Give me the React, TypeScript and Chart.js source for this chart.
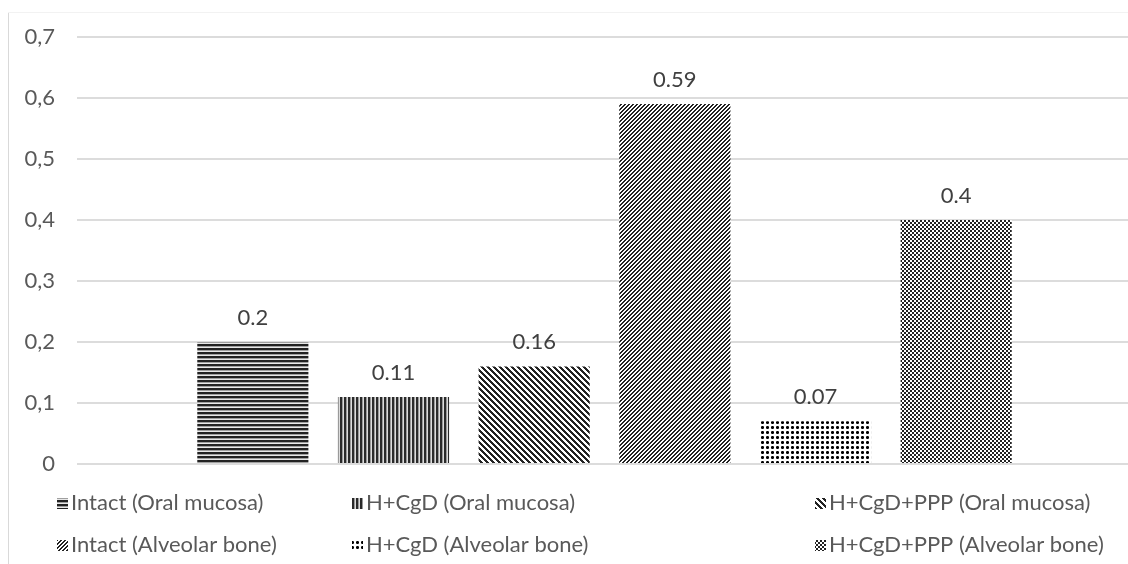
import React, { useEffect, useRef } from "react";
import { Chart, registerables } from "chart.js";

Chart.register(...registerables);

const categories = [""];
const seriesLabels = [
  "Intact (Oral mucosa)",
  "H+CgD (Oral mucosa)",
  "H+CgD+PPP (Oral mucosa)",
  "Intact (Alveolar bone)",
  "H+CgD (Alveolar bone)",
  "H+CgD+PPP (Alveolar bone)",
];
const seriesValues = [0.2, 0.11, 0.16, 0.59, 0.07, 0.4];
const yMin = 0;
const yMax = 0.7;
const yStep = 0.1;

const FONT = "Lato, 'Open Sans', sans-serif";
const TEXT = "#595959";
const FS = 22;

function makeTile(w: number, h: number, fn: (x: number, y: number) => string) {
  const c = document.createElement("canvas");
  c.width = w;
  c.height = h;
  const ctx = c.getContext("2d")!;
  for (let y = 0; y < h; y++) {
    for (let x = 0; x < w; x++) {
      ctx.fillStyle = fn(x, y);
      ctx.fillRect(x, y, 1, 1);
    }
  }
  return ctx.createPattern(c, "repeat")!;
}

function makePatterns(): CanvasPattern[] {
  const D = "#222222";
  const W = "#ffffff";
  const horiz = makeTile(1, 4, (_x, y) => (y < 2 ? D : y === 2 ? "#a0a0a0" : "#e8e8e8"));
  const vert = makeTile(4, 1, (x) => (x < 2 ? "#2a2a2a" : x === 2 ? "#9a9a9a" : "#dcdcdc"));
  const wideDown = makeTile(6, 6, (x, y) => ((((x - y) % 6) + 6) % 6 < 3 ? D : W));
  const denseUp = makeTile(4, 4, (x, y) => ((x + y) % 4 < 2 ? D : W));
  const dots = makeTile(5, 5, (x, y) => {
    const inX = x >= 1 && x <= 3;
    const inY = y >= 1 && y <= 3;
    if (inX && inY) {
      const corner = (x === 1 || x === 3) && (y === 1 || y === 3);
      return corner ? "#555555" : "#000000";
    }
    return W;
  });
  const checker = makeTile(4, 4, (x, y) => ((Math.floor(x / 2) + Math.floor(y / 2)) % 2 === 0 ? D : W));
  return [horiz, vert, wideDown, denseUp, dots, checker];
}

const legendCols = [57, 352, 815];
const legendRows = [503, 545];
const VIEW_W = 1128;
const CANVAS_W = 1132;
const CANVAS_H = 564;

export default function App() {
  const ref = useRef<HTMLCanvasElement | null>(null);

  useEffect(() => {
    const canvas = ref.current!;
    const patterns = makePatterns();

    const framePlugin = {
      id: "frame",
      beforeDraw(chart: any) {
        const ctx = chart.ctx;
        ctx.save();
        ctx.fillStyle = "#ffffff";
        ctx.fillRect(0, 0, chart.width, chart.height);
        ctx.strokeStyle = "#d9d9d9";
        ctx.lineWidth = 1;
        ctx.beginPath();
        ctx.moveTo(8.5, 12);
        ctx.lineTo(8.5, chart.height);
        ctx.stroke();
        ctx.strokeStyle = "#f2f2f2";
        ctx.beginPath();
        ctx.moveTo(8, 12.5);
        ctx.lineTo(chart.width, 12.5);
        ctx.stroke();
        ctx.restore();
      },
    };

    const labelPlugin = {
      id: "valueLabels",
      afterDatasetsDraw(chart: any) {
        const ctx = chart.ctx;
        ctx.save();
        ctx.font = `${FS}px ${FONT}`;
        ctx.fillStyle = "#404040";
        ctx.textAlign = "center";
        ctx.textBaseline = "middle";
        chart.data.datasets.forEach((ds: any, i: number) => {
          const meta = chart.getDatasetMeta(i);
          meta.data.forEach((el: any, j: number) => {
            ctx.fillText(String(ds.data[j]), el.x, el.y - 24);
          });
        });
        ctx.restore();
      },
    };

    const legendPlugin = {
      id: "customLegend",
      afterDraw(chart: any) {
        const ctx = chart.ctx;
        ctx.save();
        ctx.font = `${FS}px ${FONT}`;
        ctx.textAlign = "left";
        ctx.textBaseline = "middle";
        chart.data.datasets.forEach((ds: any, i: number) => {
          const x = legendCols[i % 3];
          const y = legendRows[Math.floor(i / 3)];
          ctx.fillStyle = ds.backgroundColor;
          ctx.fillRect(x, y - 5, 11, 11);
          ctx.fillStyle = TEXT;
          ctx.fillText(ds.label, x + 14, y);
        });
        ctx.restore();
      },
    };

    const chart = new Chart(canvas, {
      type: "bar",
      data: {
        labels: categories,
        datasets: seriesLabels.map((label, i) => ({
          label,
          data: [seriesValues[i]],
          backgroundColor: patterns[i] as any,
          borderWidth: 0,
          categoryPercentage: 0.8,
          barPercentage: 0.79,
        })),
      },
      options: {
        animation: false,
        responsive: false,
        layout: { padding: { left: 0, right: 0, top: 37, bottom: 100 } },
        plugins: {
          legend: { display: false },
          tooltip: { enabled: false },
        },
        scales: {
          x: { display: false },
          y: {
            min: yMin,
            max: yMax,
            ticks: {
              stepSize: yStep,
              padding: 22,
              color: TEXT,
              font: { family: FONT, size: FS },
              callback: (v: any) => {
                const n = Number(v);
                if (n === 0) return "0";
                return n.toFixed(1).replace(".", ",");
              },
            },
            grid: { color: "#dcdcdc", lineWidth: 2, drawTicks: false },
            border: { display: false },
            afterFit: (scale: any) => {
              scale.width = 77;
            },
          },
        },
      },
      plugins: [framePlugin, labelPlugin, legendPlugin],
    });

    return () => chart.destroy();
  }, []);

  return (
    <div
      style={{
        position: "fixed",
        left: 0,
        top: 0,
        width: VIEW_W,
        height: CANVAS_H,
        overflow: "hidden",
        background: "#fff",
      }}
    >
      <canvas ref={ref} width={CANVAS_W} height={CANVAS_H} style={{ display: "block" }} />
    </div>
  );
}
